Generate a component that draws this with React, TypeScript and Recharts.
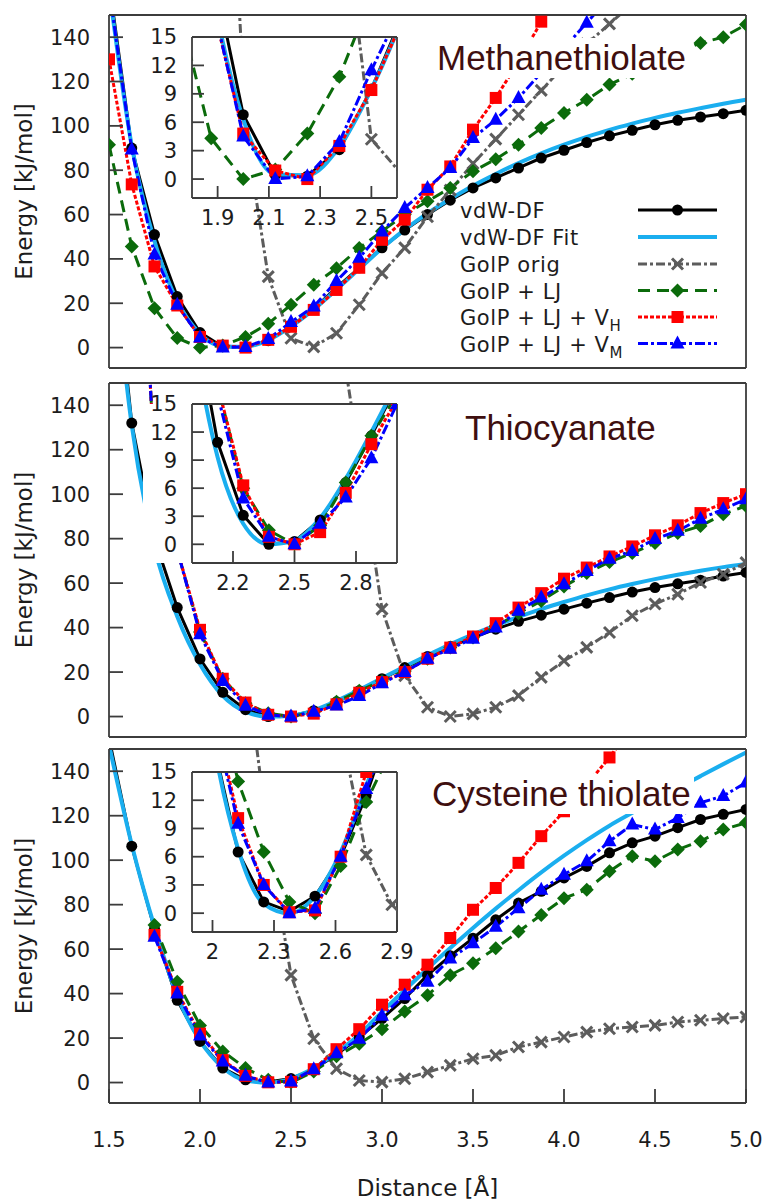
import React from 'react'
import { LineChart, Line, XAxis, YAxis } from 'recharts'

// distance grid [Å]
const distance = [1.5, 1.625, 1.75, 1.875, 2.0, 2.125, 2.25, 2.375, 2.5, 2.625, 2.75, 2.875, 3.0, 3.125, 3.25, 3.375, 3.5, 3.625, 3.75, 3.875, 4.0, 4.125, 4.25, 4.375, 4.5, 4.625, 4.75, 4.875, 5.0]

type Vals = (number | null)[]

// Methanethiolate
const methVdw: Vals = [165, 90, 51, 23, 6.8, 0.4, 0.3, 3.1, 9.5, 17.5, 27, 36, 45, 53, 60, 66.5, 72, 76.5, 81, 85.5, 89, 92.5, 95.5, 98, 100.5, 102.5, 104, 105.5, 107]
const methFit: Vals = [162, 91, 48, 21, 6.3, 0.5, 0.4, 3.4, 9.5, 17.2, 26.2, 35.5, 44.8, 53.2, 60.5, 67, 73, 78.3, 83.2, 87.6, 91.5, 95, 98.2, 101, 103.6, 105.9, 108, 110, 111.8]
const methOrig: Vals = [null, null, null, null, null, 300, 98, 32, 4.2, 0.3, 6.5, 19.3, 33.6, 45, 59, 71, 83, 94, 105, 116, 127, 137, 146, 155, null, null, null, null, null]
const methLj: Vals = [91.5, 45.6, 17.8, 4.3, 0, 1.0, 4.8, 10.8, 19.3, 28.3, 35.8, 44.9, 52.5, 60, 66, 72, 79.5, 85, 91.5, 99, 105.8, 111.8, 118.6, 123.5, 128.5, 133, 137.4, 140, 145.7]
const methVh: Vals = [130, 73.6, 36.6, 19, 4.8, 0.9, 0, 3.5, 9.4, 17, 26, 36, 48.6, 57.7, 71.2, 81.7, 98.3, 112.6, 129, 147, 166, null, null, null, null, null, null, null, null]
const methVm: Vals = [162, 89.3, 42, 19.3, 4.5, 0, 0.3, 3.9, 11.5, 18.5, 30, 40.5, 52.4, 63, 72, 81, 94.5, 102.8, 112.6, 124, 135, 146.5, 158, null, null, null, null, null, null]

// Thiocyanate
const thioVdw: Vals = [230, 132, 80, 49, 25.9, 10.9, 3.1, 0, 0.3, 2.6, 6.6, 11.6, 17, 22, 27, 31.5, 35.5, 39.3, 42.8, 45.6, 48.3, 51, 53.5, 56, 58, 59.7, 61.3, 63.2, 64.8]
const thioFit: Vals = [225, 131, 76, 45, 23.5, 9.3, 2.2, 0, 0.4, 2.8, 7, 12, 17.3, 22.5, 27.5, 32.5, 37, 41, 44.8, 48.3, 51.5, 54.5, 57.2, 59.6, 61.8, 63.8, 65.6, 67.2, 68.6]
const thioOrig: Vals = [null, null, null, null, null, null, null, null, null, 300, 183, 117, 48.3, 18.4, 4.2, 0, 1.2, 4.2, 9.4, 17.6, 25.1, 31.1, 37.8, 45.3, 50.6, 55, 60.3, 64, 69.2]
const thioLj: Vals = [null, 300, 115, 75, 38, 17, 6, 1.5, 0, 2, 6.6, 11.6, 16, 20.5, 26, 31, 35.5, 40.5, 46.5, 52, 58.5, 64.5, 69.5, 73.5, 78, 82.5, 85.7, 91, 94.7]
const thioVh: Vals = [null, 300, 115, 75, 39, 17, 6.3, 0.8, 0, 1.3, 5.5, 10.7, 15.5, 20, 26, 31, 36, 42, 49, 55.5, 62, 67, 72, 76.5, 81.5, 86, 91.5, 96, 100]
const thioVm: Vals = [null, 300, 115, 75, 37, 16, 4.9, 0.8, 0, 2.2, 5, 9.2, 15, 20, 26, 30.5, 35, 40, 47.6, 53.5, 59.5, 65.5, 71, 74.5, 79.8, 83.5, 89, 93.2, 97.7]

// Cysteine thiolate
const cysVdw: Vals = [155, 106.3, 69, 37, 18.5, 6.5, 1.2, 0.2, 1.8, 6, 12.5, 20.5, 28.8, 37.8, 48.3, 57, 64.9, 73.2, 80.7, 86, 92, 97.2, 103.3, 107.8, 110.8, 114.6, 118.3, 120.6, 122.8]
const cysFit: Vals = [152, 107, 70, 39, 18.8, 6.8, 1, 0, 1.8, 6.5, 13.5, 21.5, 31.8, 41.6, 51.2, 60.5, 69.5, 78.2, 86.5, 94.5, 102, 109, 115.5, 121.3, 127, 132.3, 137.8, 143.2, 148.4]
const cysOrig: Vals = [null, null, null, null, 400, 290, 190, 110, 48.3, 19.7, 6.2, 0.9, 0.2, 1.7, 4.7, 7.7, 10.7, 12.2, 16, 18.2, 20.5, 22.7, 24.2, 25, 25.7, 27.2, 28, 28.8, 29.5]
const cysLj: Vals = [null, null, 70.9, 45.3, 25.7, 14, 6.5, 1.2, 0, 5, 11.8, 17.5, 24, 32, 39.3, 48.3, 53.6, 60.4, 67.9, 75.4, 82.9, 86.7, 95, 101.8, 99.5, 104.8, 108.5, 113.8, 116.8]
const cysVh: Vals = [null, null, 66.4, 40.8, 22, 10.1, 3, 0.1, 0.3, 6, 15, 24, 35, 44, 53, 65, 77.7, 87.5, 98.8, 110.8, 122, 134, 146.2, 160, null, null, null, null, null]
const cysVm: Vals = [null, null, 65.6, 40, 21.2, 9.5, 3, 0, 0.5, 6, 13.2, 19.7, 30, 39.3, 45.3, 55.8, 62.6, 70.1, 78.4, 86.7, 93.5, 99.5, 108.5, 116, 113.8, 119, 125.8, 128.9, 134.9]

const mainXTicks = [1.5, 2.0, 2.5, 3.0, 3.5, 4.0, 4.5, 5.0]
const mainYTicks = [0, 20, 40, 60, 80, 100, 120, 140]
const insetYTicks = [0, 3, 6, 9, 12, 15]
const methInsetX = [1.9, 2.1, 2.3, 2.5]
const thioInsetX = [2.2, 2.5, 2.8]
const cysInsetX = [2, 2.3, 2.6, 2.9]

type Marker = 'circle' | 'cross' | 'diamond' | 'square' | 'triangle'

const SERIES: { key: string; name: string; sub?: string; color: string; width: number; dash?: string; marker: Marker | null; smooth?: boolean }[] = [
  { key: 'vdw', name: 'vdW-DF', color: '#000000', width: 3, marker: 'circle' },
  { key: 'fit', name: 'vdW-DF Fit', color: '#1aaeef', width: 4, marker: null, smooth: true },
  { key: 'orig', name: 'GolP orig', color: '#5c5c5c', width: 3, dash: '9 3 3 3', marker: 'cross' },
  { key: 'lj', name: 'GolP + LJ', color: '#0b6b0b', width: 3, dash: '12 7', marker: 'diamond' },
  { key: 'vh', name: 'GolP + LJ + V', sub: 'H', color: '#ff0000', width: 3, dash: '4 2', marker: 'square' },
  { key: 'vm', name: 'GolP + LJ + V', sub: 'M', color: '#0000ff', width: 3, dash: '10 3 3 3', marker: 'triangle' },
]

const AXIS = '#3c3c3c'
const TEXT = '#1c1c1c'
const FONT = 'DejaVu Sans'
const tickText = { fill: TEXT, fontSize: 21, fontFamily: FONT }

function buildRows(vdw: Vals, fit: Vals, orig: Vals, lj: Vals, vh: Vals, vm: Vals) {
  return distance.map((d, i) => ({ d, vdw: vdw[i], fit: fit[i], orig: orig[i], lj: lj[i], vh: vh[i], vm: vm[i] }))
}

const methRows = buildRows(methVdw, methFit, methOrig, methLj, methVh, methVm)
const thioRows = buildRows(thioVdw, thioFit, thioOrig, thioLj, thioVh, thioVm)
const cysRows = buildRows(cysVdw, cysFit, cysOrig, cysLj, cysVh, cysVm)

function markerShape(kind: Marker, color: string, cx: number, cy: number, key?: string) {
  switch (kind) {
    case 'circle':
      return <circle key={key} cx={cx} cy={cy} r={5.5} fill={color} />
    case 'cross':
      return (
        <g key={key} stroke={color} strokeWidth={3}>
          <line x1={cx - 5.5} y1={cy - 5.5} x2={cx + 5.5} y2={cy + 5.5} />
          <line x1={cx - 5.5} y1={cy + 5.5} x2={cx + 5.5} y2={cy - 5.5} />
        </g>
      )
    case 'diamond':
      return <polygon key={key} points={`${cx},${cy - 7} ${cx + 7},${cy} ${cx},${cy + 7} ${cx - 7},${cy}`} fill={color} />
    case 'square':
      return <rect key={key} x={cx - 6} y={cy - 6} width={12} height={12} fill={color} />
    default:
      return <polygon key={key} points={`${cx},${cy - 8} ${cx + 7},${cy + 5} ${cx - 7},${cy + 5}`} fill={color} />
  }
}

const makeDot = (kind: Marker, color: string, id: string) => (props: any) => {
  const { cx, cy, index, value } = props
  const key = `${id}-${index}`
  if (cx == null || cy == null || value == null || Number.isNaN(cy)) return <g key={key} />
  return markerShape(kind, color, cx, cy, key)
}

function seriesLines(prefix: string) {
  return SERIES.map((s) => (
    <Line
      key={s.key}
      dataKey={s.key}
      type={s.smooth ? 'monotone' : 'linear'}
      stroke={s.color}
      strokeWidth={s.width}
      strokeDasharray={s.dash}
      dot={s.marker ? makeDot(s.marker, s.color, prefix + s.key) : false}
      activeDot={false}
      isAnimationActive={false}
    />
  ))
}

const axisLine = { stroke: AXIS, strokeWidth: 1.8 }

// shared props for the tick-only (mirror) axes on top and right
const frameAxis = { stroke: AXIS, axisLine, tickLine: axisLine, tick: false as const, interval: 0 as const, allowDataOverflow: true }

function MainPanel({ rows, id, top, height, marginTop, marginBottom, xAxisHeight, showX }: {
  rows: any[]; id: string; top: number; height: number; marginTop: number; marginBottom: number; xAxisHeight: number; showX: boolean
}) {
  return (
    <div style={{ position: 'absolute', left: 0, top }}>
      <LineChart width={764} height={height} data={rows} margin={{ top: marginTop - 1, right: 17, bottom: marginBottom, left: 0 }}>
        <XAxis
          dataKey="d"
          type="number"
          domain={[1.5, 5]}
          ticks={mainXTicks}
          interval={0}
          allowDataOverflow
          height={xAxisHeight}
          tickSize={-14}
          tickMargin={43}
          tick={showX ? tickText : false}
          tickFormatter={(v: number) => v.toFixed(1)}
          stroke={AXIS}
          axisLine={axisLine}
          tickLine={axisLine}
          label={showX ? { value: 'Distance [Å]', position: 'insideBottom', offset: 7, style: { fontSize: 23, fontFamily: FONT, fill: TEXT } } : undefined}
        />
        <XAxis xAxisId="top" orientation="top" dataKey="d" type="number" domain={[1.5, 5]} ticks={mainXTicks} height={1} tickSize={-14} {...frameAxis} />
        <YAxis
          type="number"
          domain={[-9.2, 150]}
          ticks={mainYTicks}
          interval={0}
          allowDataOverflow
          width={109}
          tickSize={-14}
          tickMargin={33}
          tick={tickText}
          stroke={AXIS}
          axisLine={axisLine}
          tickLine={axisLine}
          label={{ value: 'Energy [kJ/mol]', angle: -90, position: 'insideLeft', offset: 24, style: { textAnchor: 'middle', fontSize: 23, fontFamily: FONT, fill: TEXT } }}
        />
        <YAxis yAxisId="right" orientation="right" type="number" domain={[-9.2, 150]} ticks={mainYTicks} width={1} tickSize={-14} {...frameAxis} />
        {seriesLines(id)}
      </LineChart>
    </div>
  )
}

function Inset({ rows, id, top, plotH, xDomain, xTicks, bgLeft }: {
  rows: any[]; id: string; top: number; plotH: number; xDomain: [number, number]; xTicks: number[]; bgLeft: number
}) {
  const xAxisHeight = 34
  const padTop = 16
  return (
    <>
      <div style={{ position: 'absolute', left: bgLeft, top, width: 397 - bgLeft, height: plotH, background: '#ffffff' }} />
      <div style={{ position: 'absolute', left: 120, top: top - padTop }}>
        <LineChart width={310} height={padTop + plotH + xAxisHeight} data={rows} margin={{ top: padTop - 1, right: 310 - 277 - 1, bottom: 0, left: 0 }}>
          <XAxis dataKey="d" type="number" domain={xDomain} ticks={xTicks} interval={0} allowDataOverflow height={xAxisHeight} tickSize={-12} tickMargin={24.5} tick={tickText} stroke={AXIS} axisLine={axisLine} tickLine={axisLine} />
          <XAxis xAxisId="top" orientation="top" dataKey="d" type="number" domain={xDomain} ticks={xTicks} height={1} tickSize={-12} {...frameAxis} />
          <YAxis type="number" domain={[-2, 15]} ticks={insetYTicks} interval={0} allowDataOverflow width={72} tickSize={-12} tickMargin={27} tick={tickText} stroke={AXIS} axisLine={axisLine} tickLine={axisLine} />
          <YAxis yAxisId="right" orientation="right" type="number" domain={[-2, 15]} ticks={insetYTicks} width={1} tickSize={-12} {...frameAxis} />
          {seriesLines(id)}
        </LineChart>
      </div>
    </>
  )
}

function Title({ text, left, baseline }: { text: string; left: number; baseline: number }) {
  return (
    <div style={{ position: 'absolute', left: left - 3, top: baseline - 32, fontFamily: 'Liberation Sans', fontSize: 35, lineHeight: 'normal', color: '#3f0f0f', background: '#ffffff', padding: '0 3px', whiteSpace: 'nowrap' }}>
      {text}
    </div>
  )
}

function LegendBox() {
  const rowY = [210, 237, 264, 290.5, 317, 343.5]
  return (
    <svg style={{ position: 'absolute', left: 0, top: 0 }} width={764} height={380}>
      {SERIES.map((s, i) => {
        const y = rowY[i]
        return (
          <g key={s.key}>
            <text x={460} y={y + 8} fontSize={21} fontFamily={FONT} fill={TEXT} letterSpacing={0.6}>
              {s.name}
              {s.sub && <tspan dy={6} fontSize={15}>{s.sub}</tspan>}
            </text>
            <line x1={638} x2={717} y1={y} y2={y} stroke={s.color} strokeWidth={s.width} strokeDasharray={s.dash} />
            {s.marker && markerShape(s.marker, s.color, 677.5, y)}
          </g>
        )
      })}
    </svg>
  )
}

export default function App() {
  return (
    <div style={{ position: 'absolute', left: 0, top: 0, width: 764, height: 1203, background: '#ffffff', overflow: 'hidden' }}>
      <MainPanel rows={methRows} id="m" top={0} height={380} marginTop={15} marginBottom={11} xAxisHeight={1} showX={false} />
      <MainPanel rows={thioRows} id="t" top={370} height={380} marginTop={13} marginBottom={12} xAxisHeight={1} showX={false} />
      <MainPanel rows={cysRows} id="c" top={735} height={468} marginTop={14} marginBottom={0} xAxisHeight={100} showX />

      <Inset rows={methRows} id="mi" top={37} plotH={161} xDomain={[1.8, 2.6]} xTicks={methInsetX} bgLeft={192} />
      <Inset rows={thioRows} id="ti" top={404} plotH={159} xDomain={[2.0, 3.0]} xTicks={thioInsetX} bgLeft={143} />
      <Inset rows={cysRows} id="ci" top={772} plotH={160} xDomain={[1.9, 2.9]} xTicks={cysInsetX} bgLeft={192} />

      <Title text="Methanethiolate" left={437} baseline={70} />
      <Title text="Thiocyanate" left={465} baseline={440} />
      <Title text="Cysteine thiolate" left={432} baseline={806} />

      <LegendBox />
    </div>
  )
}
